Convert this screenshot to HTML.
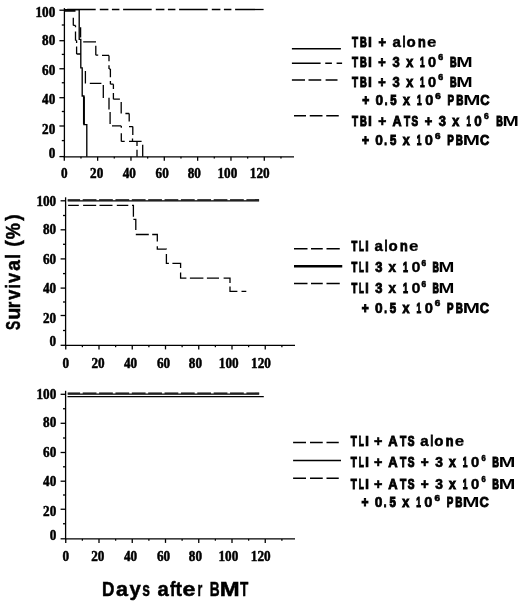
<!DOCTYPE html>
<html><head><meta charset="utf-8"><style>
html,body{margin:0;padding:0;background:#fff;overflow:hidden;}
svg{display:block;will-change:transform;}
text{fill:#000;}
.lg{stroke:#000;stroke-width:0.6px;}
.tt{stroke:#000;stroke-width:0.5px;}
.tk{stroke:#000;stroke-width:0.5px;}
</style></head><body>
<svg width="520" height="601" viewBox="0 0 520 601">
<rect width="520" height="601" fill="#fff"/>
<g stroke="#000" fill="none" stroke-linecap="butt">
<line x1="64.40" y1="8.10" x2="64.40" y2="157.40" stroke-width="1.3"/>
<line x1="63.80" y1="156.80" x2="294" y2="156.80" stroke-width="1.3"/>
<line x1="59.40" y1="10.20" x2="64.40" y2="10.20" stroke-width="1.3"/>
<text class="tk" font-size="14.2" font-family='"Liberation Serif", serif' font-weight="bold" transform="translate(35.49,16.56) scale(0.93,1)">100</text>
<line x1="61.80" y1="25" x2="64.40" y2="25" stroke-width="1.3"/>
<line x1="59.40" y1="40.70" x2="64.40" y2="40.70" stroke-width="1.3"/>
<text class="tk" font-size="14.2" font-family='"Liberation Serif", serif' font-weight="bold" transform="translate(42.10,44.91) scale(0.93,1)">80</text>
<line x1="61.80" y1="54.40" x2="64.40" y2="54.40" stroke-width="1.3"/>
<line x1="59.40" y1="68.75" x2="64.40" y2="68.75" stroke-width="1.3"/>
<text class="tk" font-size="14.2" font-family='"Liberation Serif", serif' font-weight="bold" transform="translate(42.10,74.91) scale(0.93,1)">60</text>
<line x1="61.80" y1="82.75" x2="64.40" y2="82.75" stroke-width="1.3"/>
<line x1="59.40" y1="97.70" x2="64.40" y2="97.70" stroke-width="1.3"/>
<text class="tk" font-size="14.2" font-family='"Liberation Serif", serif' font-weight="bold" transform="translate(42.10,104.16) scale(0.93,1)">40</text>
<line x1="61.80" y1="111.50" x2="64.40" y2="111.50" stroke-width="1.3"/>
<line x1="59.40" y1="126" x2="64.40" y2="126" stroke-width="1.3"/>
<text class="tk" font-size="14.2" font-family='"Liberation Serif", serif' font-weight="bold" transform="translate(42.10,133.91) scale(0.93,1)">20</text>
<line x1="61.80" y1="140.60" x2="64.40" y2="140.60" stroke-width="1.3"/>
<line x1="59.40" y1="156.60" x2="64.40" y2="156.60" stroke-width="1.3"/>
<text class="tk" font-size="14.2" font-family='"Liberation Serif", serif' font-weight="bold" transform="translate(48.70,158.06) scale(0.93,1)">0</text>
<line x1="64.30" y1="156.80" x2="64.30" y2="160.80" stroke-width="1.3"/>
<text class="tk" font-size="14.2" font-family='"Liberation Serif", serif' font-weight="bold" transform="translate(60.90,178.16) scale(0.93,1)">0</text>
<line x1="80.97" y1="156.80" x2="80.97" y2="158.60" stroke-width="1.3"/>
<line x1="97.63" y1="156.80" x2="97.63" y2="160.80" stroke-width="1.3"/>
<text class="tk" font-size="14.2" font-family='"Liberation Serif", serif' font-weight="bold" transform="translate(90.12,178.16) scale(0.93,1)">20</text>
<line x1="114.30" y1="156.80" x2="114.30" y2="158.60" stroke-width="1.3"/>
<line x1="130.97" y1="156.80" x2="130.97" y2="160.80" stroke-width="1.3"/>
<text class="tk" font-size="14.2" font-family='"Liberation Serif", serif' font-weight="bold" transform="translate(122.71,178.16) scale(0.93,1)">40</text>
<line x1="147.63" y1="156.80" x2="147.63" y2="158.60" stroke-width="1.3"/>
<line x1="164.30" y1="156.80" x2="164.30" y2="160.80" stroke-width="1.3"/>
<text class="tk" font-size="14.2" font-family='"Liberation Serif", serif' font-weight="bold" transform="translate(155.57,178.16) scale(0.93,1)">60</text>
<line x1="180.97" y1="156.80" x2="180.97" y2="158.60" stroke-width="1.3"/>
<line x1="197.64" y1="156.80" x2="197.64" y2="160.80" stroke-width="1.3"/>
<text class="tk" font-size="14.2" font-family='"Liberation Serif", serif' font-weight="bold" transform="translate(187.77,178.16) scale(0.93,1)">80</text>
<line x1="214.30" y1="156.80" x2="214.30" y2="158.60" stroke-width="1.3"/>
<line x1="230.97" y1="156.80" x2="230.97" y2="160.80" stroke-width="1.3"/>
<text class="tk" font-size="14.2" font-family='"Liberation Serif", serif' font-weight="bold" transform="translate(217.47,178.16) scale(0.93,1)">100</text>
<line x1="247.64" y1="156.80" x2="247.64" y2="158.60" stroke-width="1.3"/>
<line x1="264.30" y1="156.80" x2="264.30" y2="160.80" stroke-width="1.3"/>
<text class="tk" font-size="14.2" font-family='"Liberation Serif", serif' font-weight="bold" transform="translate(249.82,178.16) scale(0.93,1)">120</text>
<line x1="280.97" y1="156.80" x2="280.97" y2="158.60" stroke-width="1.3"/>
<polyline points="64.4,9.5 263.6,9.5" stroke-width="1.3" stroke-dasharray="28.6 4.1 8.6 3.5 7.5 3.7" stroke-dashoffset="-2.7"/>
<polyline points="64.4,9.6 79.2,9.6 79.2,39.3 80.8,39.3 80.8,67.8 82.2,67.8 82.2,96 83.9,96 83.9,124.6 86.8,124.6 86.8,156.8" stroke-width="1.35"/>
<line x1="83.90" y1="96.50" x2="83.90" y2="124.20" stroke-width="1.9"/>
<line x1="64.40" y1="10.90" x2="75.50" y2="10.90" stroke-width="1.7"/>
<path d="M73.3 17.7L73.3 25.4 M73.3 25.4L75.5 25.4 M75.5 25.4L75.5 27.2 M75.5 31.6L75.5 40.4 M75.5 40.4L76.6 40.4 M76.6 40.4L76.6 42.9 M76.6 46.6L76.6 54 M76.6 54L80.8 54 M85.4 70.9L85.4 83.5 M89.8 83.4L101.4 83.4 M103.3 84.9L103.3 98.1 M109 97.7L109 109.4 M110.1 112L110.1 124 M112 125.9L121.3 125.9 M121.3 125.9L121.3 127.8 M121.3 133.3L121.3 141.4 M121.3 141.4L124.7 141.4 M129 141.4L141.6 141.4 M137 141.4L137 146 M137 149.8L137 156.8" stroke-width="1.3"/>
<path d="M80.6 27.2L80.6 37.4 M83.2 41.8L96 41.8 M95.8 45.8L95.8 55.2 M95.8 55.2L98.2 55.2 M102 55.4L109 55.4 M109 55.4L109 61.2 M109 65.2L109 68.9 M109 68.9L110.4 68.9 M110.4 68.9L110.4 77.3 M110.4 80.9L110.4 84.2 M110.4 84.2L113.4 84.2 M113.4 84.2L113.4 89 M113.4 93L113.4 99.2 M113.4 99.2L119.9 99.2 M121.2 102.1L121.2 113.5 M125.4 113.5L129.2 113.5 M129.2 113.5L129.2 121.5 M129 126.6L132.8 126.6 M132.8 126.6L132.8 135 M132.5 138.4L132.5 141.4 M142.7 144.8L142.7 156.8" stroke-width="1.3"/>
<line x1="65.60" y1="197.30" x2="65.60" y2="346" stroke-width="1.3"/>
<line x1="65" y1="345.40" x2="295" y2="345.40" stroke-width="1.3"/>
<line x1="60.60" y1="200.80" x2="65.60" y2="200.80" stroke-width="1.3"/>
<text class="tk" font-size="14.2" font-family='"Liberation Serif", serif' font-weight="bold" transform="translate(36.39,205.66) scale(0.93,1)">100</text>
<line x1="63" y1="215.50" x2="65.60" y2="215.50" stroke-width="1.3"/>
<line x1="60.60" y1="229.80" x2="65.60" y2="229.80" stroke-width="1.3"/>
<text class="tk" font-size="14.2" font-family='"Liberation Serif", serif' font-weight="bold" transform="translate(43.00,233.66) scale(0.93,1)">80</text>
<line x1="63" y1="244.30" x2="65.60" y2="244.30" stroke-width="1.3"/>
<line x1="60.60" y1="258.90" x2="65.60" y2="258.90" stroke-width="1.3"/>
<text class="tk" font-size="14.2" font-family='"Liberation Serif", serif' font-weight="bold" transform="translate(43.00,263.56) scale(0.93,1)">60</text>
<line x1="63" y1="273.60" x2="65.60" y2="273.60" stroke-width="1.3"/>
<line x1="60.60" y1="288.10" x2="65.60" y2="288.10" stroke-width="1.3"/>
<text class="tk" font-size="14.2" font-family='"Liberation Serif", serif' font-weight="bold" transform="translate(43.00,292.66) scale(0.93,1)">40</text>
<line x1="63" y1="302" x2="65.60" y2="302" stroke-width="1.3"/>
<line x1="60.60" y1="315.50" x2="65.60" y2="315.50" stroke-width="1.3"/>
<text class="tk" font-size="14.2" font-family='"Liberation Serif", serif' font-weight="bold" transform="translate(43.00,323.16) scale(0.93,1)">20</text>
<line x1="63" y1="330.50" x2="65.60" y2="330.50" stroke-width="1.3"/>
<line x1="60.60" y1="345.30" x2="65.60" y2="345.30" stroke-width="1.3"/>
<text class="tk" font-size="14.2" font-family='"Liberation Serif", serif' font-weight="bold" transform="translate(49.60,346.46) scale(0.93,1)">0</text>
<line x1="65.75" y1="345.40" x2="65.75" y2="349.40" stroke-width="1.3"/>
<text class="tk" font-size="14.2" font-family='"Liberation Serif", serif' font-weight="bold" transform="translate(62.60,367.66) scale(0.93,1)">0</text>
<line x1="82.38" y1="345.40" x2="82.38" y2="347.20" stroke-width="1.3"/>
<line x1="99" y1="345.40" x2="99" y2="349.40" stroke-width="1.3"/>
<text class="tk" font-size="14.2" font-family='"Liberation Serif", serif' font-weight="bold" transform="translate(91.42,367.66) scale(0.93,1)">20</text>
<line x1="115.62" y1="345.40" x2="115.62" y2="347.20" stroke-width="1.3"/>
<line x1="132.25" y1="345.40" x2="132.25" y2="349.40" stroke-width="1.3"/>
<text class="tk" font-size="14.2" font-family='"Liberation Serif", serif' font-weight="bold" transform="translate(124.01,367.66) scale(0.93,1)">40</text>
<line x1="148.88" y1="345.40" x2="148.88" y2="347.20" stroke-width="1.3"/>
<line x1="165.50" y1="345.40" x2="165.50" y2="349.40" stroke-width="1.3"/>
<text class="tk" font-size="14.2" font-family='"Liberation Serif", serif' font-weight="bold" transform="translate(156.92,367.66) scale(0.93,1)">60</text>
<line x1="182.12" y1="345.40" x2="182.12" y2="347.20" stroke-width="1.3"/>
<line x1="198.75" y1="345.40" x2="198.75" y2="349.40" stroke-width="1.3"/>
<text class="tk" font-size="14.2" font-family='"Liberation Serif", serif' font-weight="bold" transform="translate(188.82,367.66) scale(0.93,1)">80</text>
<line x1="215.38" y1="345.40" x2="215.38" y2="347.20" stroke-width="1.3"/>
<line x1="232" y1="345.40" x2="232" y2="349.40" stroke-width="1.3"/>
<text class="tk" font-size="14.2" font-family='"Liberation Serif", serif' font-weight="bold" transform="translate(218.82,367.66) scale(0.93,1)">100</text>
<line x1="248.62" y1="345.40" x2="248.62" y2="347.20" stroke-width="1.3"/>
<line x1="265.25" y1="345.40" x2="265.25" y2="349.40" stroke-width="1.3"/>
<text class="tk" font-size="14.2" font-family='"Liberation Serif", serif' font-weight="bold" transform="translate(251.12,367.66) scale(0.93,1)">120</text>
<line x1="281.88" y1="345.40" x2="281.88" y2="347.20" stroke-width="1.3"/>
<line x1="67.70" y1="200.80" x2="259.10" y2="200.80" stroke-width="1.25"/>
<line x1="67.70" y1="199.80" x2="259.10" y2="199.80" stroke-width="1.3" stroke-dasharray="13.77 2.6" stroke-dashoffset="1.37"/>
<polyline points="67.7,205.4 133.4,205.4 133.4,219.3 135.8,219.3 135.8,234.5 157.3,234.5 157.3,249.2 166.4,249.2 166.4,263.4 180.6,263.4 180.6,278.1 230,278.1 230,291.3 246.3,291.3" stroke-width="1.3" stroke-dasharray="0.00 0.40 10.70 4.30 13.10 3.30 13.00 4.30 11.50 3.70 12.70 2.60 13.20 4.40 13.00 3.40 12.10 4.80 12.10 4.80 11.80 3.50 12.80 4.50 11.40 3.50 13.50 3.50 12.10 4.60 11.20 3.50 12.30 4.10 5.20 50" stroke-dashoffset="0"/>
<line x1="65.60" y1="390.80" x2="65.60" y2="539.50" stroke-width="1.3"/>
<line x1="65" y1="538.90" x2="295" y2="538.90" stroke-width="1.3"/>
<line x1="60.60" y1="394.30" x2="65.60" y2="394.30" stroke-width="1.3"/>
<text class="tk" font-size="14.2" font-family='"Liberation Serif", serif' font-weight="bold" transform="translate(36.49,399.06) scale(0.93,1)">100</text>
<line x1="63" y1="408.75" x2="65.60" y2="408.75" stroke-width="1.3"/>
<line x1="60.60" y1="423.30" x2="65.60" y2="423.30" stroke-width="1.3"/>
<text class="tk" font-size="14.2" font-family='"Liberation Serif", serif' font-weight="bold" transform="translate(43.10,427.06) scale(0.93,1)">80</text>
<line x1="63" y1="438" x2="65.60" y2="438" stroke-width="1.3"/>
<line x1="60.60" y1="452.50" x2="65.60" y2="452.50" stroke-width="1.3"/>
<text class="tk" font-size="14.2" font-family='"Liberation Serif", serif' font-weight="bold" transform="translate(43.10,456.76) scale(0.93,1)">60</text>
<line x1="63" y1="466.80" x2="65.60" y2="466.80" stroke-width="1.3"/>
<line x1="60.60" y1="481.20" x2="65.60" y2="481.20" stroke-width="1.3"/>
<text class="tk" font-size="14.2" font-family='"Liberation Serif", serif' font-weight="bold" transform="translate(43.10,486.31) scale(0.93,1)">40</text>
<line x1="63" y1="495" x2="65.60" y2="495" stroke-width="1.3"/>
<line x1="60.60" y1="509.25" x2="65.60" y2="509.25" stroke-width="1.3"/>
<text class="tk" font-size="14.2" font-family='"Liberation Serif", serif' font-weight="bold" transform="translate(43.10,516.46) scale(0.93,1)">20</text>
<line x1="63" y1="523.75" x2="65.60" y2="523.75" stroke-width="1.3"/>
<line x1="60.60" y1="538.80" x2="65.60" y2="538.80" stroke-width="1.3"/>
<text class="tk" font-size="14.2" font-family='"Liberation Serif", serif' font-weight="bold" transform="translate(49.70,539.66) scale(0.93,1)">0</text>
<line x1="65.75" y1="538.90" x2="65.75" y2="542.90" stroke-width="1.3"/>
<text class="tk" font-size="14.2" font-family='"Liberation Serif", serif' font-weight="bold" transform="translate(62.60,561.26) scale(0.93,1)">0</text>
<line x1="82.38" y1="538.90" x2="82.38" y2="540.70" stroke-width="1.3"/>
<line x1="99" y1="538.90" x2="99" y2="542.90" stroke-width="1.3"/>
<text class="tk" font-size="14.2" font-family='"Liberation Serif", serif' font-weight="bold" transform="translate(91.17,561.26) scale(0.93,1)">20</text>
<line x1="115.62" y1="538.90" x2="115.62" y2="540.70" stroke-width="1.3"/>
<line x1="132.25" y1="538.90" x2="132.25" y2="542.90" stroke-width="1.3"/>
<text class="tk" font-size="14.2" font-family='"Liberation Serif", serif' font-weight="bold" transform="translate(124.01,561.26) scale(0.93,1)">40</text>
<line x1="148.88" y1="538.90" x2="148.88" y2="540.70" stroke-width="1.3"/>
<line x1="165.50" y1="538.90" x2="165.50" y2="542.90" stroke-width="1.3"/>
<text class="tk" font-size="14.2" font-family='"Liberation Serif", serif' font-weight="bold" transform="translate(156.92,561.26) scale(0.93,1)">60</text>
<line x1="182.12" y1="538.90" x2="182.12" y2="540.70" stroke-width="1.3"/>
<line x1="198.75" y1="538.90" x2="198.75" y2="542.90" stroke-width="1.3"/>
<text class="tk" font-size="14.2" font-family='"Liberation Serif", serif' font-weight="bold" transform="translate(188.82,561.26) scale(0.93,1)">80</text>
<line x1="215.38" y1="538.90" x2="215.38" y2="540.70" stroke-width="1.3"/>
<line x1="232" y1="538.90" x2="232" y2="542.90" stroke-width="1.3"/>
<text class="tk" font-size="14.2" font-family='"Liberation Serif", serif' font-weight="bold" transform="translate(218.52,561.26) scale(0.93,1)">100</text>
<line x1="248.62" y1="538.90" x2="248.62" y2="540.70" stroke-width="1.3"/>
<line x1="265.25" y1="538.90" x2="265.25" y2="542.90" stroke-width="1.3"/>
<text class="tk" font-size="14.2" font-family='"Liberation Serif", serif' font-weight="bold" transform="translate(250.82,561.26) scale(0.93,1)">120</text>
<line x1="281.88" y1="538.90" x2="281.88" y2="540.70" stroke-width="1.3"/>
<line x1="67.70" y1="394.10" x2="259.20" y2="394.10" stroke-width="1.25"/>
<line x1="67.70" y1="393.10" x2="259.20" y2="393.10" stroke-width="1.3" stroke-dasharray="13.77 2.6" stroke-dashoffset="1.37"/>
<line x1="67.50" y1="396.60" x2="263.80" y2="396.60" stroke-width="1.15"/>
<text class="lg" style="stroke-width:1.10px" font-size="14.2" font-family='"Liberation Sans", sans-serif' font-weight="bold" transform="translate(351.96,46.60) scale(0.6948,1)">T</text>
<text class="lg" style="stroke-width:1.10px" font-size="14.2" font-family='"Liberation Sans", sans-serif' font-weight="bold" transform="translate(359.97,46.60) scale(0.6626,1)">B</text>
<text class="lg" style="stroke-width:0.63px" font-size="14.2" font-family='"Liberation Sans", sans-serif' font-weight="bold" transform="translate(368.04,46.60) scale(0.9885,1)">I</text>
<text class="lg" style="stroke-width:0.90px" font-size="14.2" font-family='"Liberation Sans", sans-serif' font-weight="bold" transform="translate(378.47,46.60) scale(0.8965,1)">+</text>
<text class="lg" style="stroke-width:0.46px" font-size="14.2" font-family='"Liberation Sans", sans-serif' font-weight="bold" transform="translate(392.59,46.60) scale(1.0613,1)">a</text>
<text class="lg" style="stroke-width:1.10px" font-size="14.2" font-family='"Liberation Sans", sans-serif' font-weight="bold" transform="translate(402.71,46.60) scale(0.6495,1)">l</text>
<text class="lg" style="stroke-width:0.46px" font-size="14.2" font-family='"Liberation Sans", sans-serif' font-weight="bold" transform="translate(406.53,46.60) scale(1.0613,1)">o</text>
<text class="lg" style="stroke-width:0.92px" font-size="14.2" font-family='"Liberation Sans", sans-serif' font-weight="bold" transform="translate(418.08,46.60) scale(0.8900,1)">n</text>
<text class="lg" style="stroke-width:0.21px" font-size="14.2" font-family='"Liberation Sans", sans-serif' font-weight="bold" transform="translate(427.07,46.60) scale(1.1883,1)">e</text>
<text class="lg" style="stroke-width:1.10px" font-size="14.2" font-family='"Liberation Sans", sans-serif' font-weight="bold" transform="translate(351.96,66.60) scale(0.6948,1)">T</text>
<text class="lg" style="stroke-width:1.10px" font-size="14.2" font-family='"Liberation Sans", sans-serif' font-weight="bold" transform="translate(359.97,66.60) scale(0.6626,1)">B</text>
<text class="lg" style="stroke-width:0.63px" font-size="14.2" font-family='"Liberation Sans", sans-serif' font-weight="bold" transform="translate(368.04,66.60) scale(0.9885,1)">I</text>
<text class="lg" style="stroke-width:0.90px" font-size="14.2" font-family='"Liberation Sans", sans-serif' font-weight="bold" transform="translate(378.37,66.60) scale(0.8965,1)">+</text>
<text class="lg" style="stroke-width:0.86px" font-size="14.2" font-family='"Liberation Sans", sans-serif' font-weight="bold" transform="translate(392.58,66.60) scale(0.9114,1)">3</text>
<text class="lg" style="stroke-width:0.95px" font-size="14.2" font-family='"Liberation Sans", sans-serif' font-weight="bold" transform="translate(406.22,66.60) scale(0.8818,1)">x</text>
<text class="lg" style="stroke-width:1.10px" font-size="14.2" font-family='"Liberation Sans", sans-serif' font-weight="bold" transform="translate(420.11,66.60) scale(0.5862,1)">1</text>
<text class="lg" style="stroke-width:0.55px" font-size="14.2" font-family='"Liberation Sans", sans-serif' font-weight="bold" transform="translate(428.11,66.60) scale(1.0242,1)">0</text>
<text class="lg" font-size="8.6" font-family='"Liberation Sans", sans-serif' font-weight="bold" transform="translate(438.19,60.30) scale(1.0289,1)">6</text>
<text class="lg" style="stroke-width:1.10px" font-size="14.2" font-family='"Liberation Sans", sans-serif' font-weight="bold" transform="translate(449.95,66.60) scale(0.6454,1)">B</text>
<text class="lg" style="stroke-width:0.00px" font-size="14.2" font-family='"Liberation Sans", sans-serif' font-weight="bold" transform="translate(456.15,66.60) scale(1.3838,1)">M</text>
<text class="lg" style="stroke-width:1.10px" font-size="14.2" font-family='"Liberation Sans", sans-serif' font-weight="bold" transform="translate(351.96,86.70) scale(0.6948,1)">T</text>
<text class="lg" style="stroke-width:1.10px" font-size="14.2" font-family='"Liberation Sans", sans-serif' font-weight="bold" transform="translate(359.97,86.70) scale(0.6626,1)">B</text>
<text class="lg" style="stroke-width:0.63px" font-size="14.2" font-family='"Liberation Sans", sans-serif' font-weight="bold" transform="translate(368.04,86.70) scale(0.9885,1)">I</text>
<text class="lg" style="stroke-width:0.90px" font-size="14.2" font-family='"Liberation Sans", sans-serif' font-weight="bold" transform="translate(378.37,86.70) scale(0.8965,1)">+</text>
<text class="lg" style="stroke-width:0.86px" font-size="14.2" font-family='"Liberation Sans", sans-serif' font-weight="bold" transform="translate(392.58,86.70) scale(0.9114,1)">3</text>
<text class="lg" style="stroke-width:0.95px" font-size="14.2" font-family='"Liberation Sans", sans-serif' font-weight="bold" transform="translate(406.22,86.70) scale(0.8818,1)">x</text>
<text class="lg" style="stroke-width:1.10px" font-size="14.2" font-family='"Liberation Sans", sans-serif' font-weight="bold" transform="translate(420.11,86.70) scale(0.5862,1)">1</text>
<text class="lg" style="stroke-width:0.55px" font-size="14.2" font-family='"Liberation Sans", sans-serif' font-weight="bold" transform="translate(428.11,86.70) scale(1.0242,1)">0</text>
<text class="lg" font-size="8.6" font-family='"Liberation Sans", sans-serif' font-weight="bold" transform="translate(438.19,80.40) scale(1.0289,1)">6</text>
<text class="lg" style="stroke-width:1.10px" font-size="14.2" font-family='"Liberation Sans", sans-serif' font-weight="bold" transform="translate(449.95,86.70) scale(0.6454,1)">B</text>
<text class="lg" style="stroke-width:0.00px" font-size="14.2" font-family='"Liberation Sans", sans-serif' font-weight="bold" transform="translate(456.15,86.70) scale(1.3838,1)">M</text>
<text class="lg" style="stroke-width:1.09px" font-size="14.2" font-family='"Liberation Sans", sans-serif' font-weight="bold" transform="translate(362.36,105.40) scale(0.8393,1)">+</text>
<text class="lg" style="stroke-width:0.70px" font-size="14.2" font-family='"Liberation Sans", sans-serif' font-weight="bold" transform="translate(375.59,105.40) scale(0.9654,1)">0</text>
<text class="lg" style="stroke-width:1.10px" font-size="14.2" font-family='"Liberation Sans", sans-serif' font-weight="bold" transform="translate(384.72,105.40) scale(0.6739,1)">.</text>
<text class="lg" style="stroke-width:1.10px" font-size="14.2" font-family='"Liberation Sans", sans-serif' font-weight="bold" transform="translate(390.37,105.40) scale(0.7994,1)">5</text>
<text class="lg" style="stroke-width:0.95px" font-size="14.2" font-family='"Liberation Sans", sans-serif' font-weight="bold" transform="translate(403.12,105.40) scale(0.8818,1)">x</text>
<text class="lg" style="stroke-width:1.10px" font-size="14.2" font-family='"Liberation Sans", sans-serif' font-weight="bold" transform="translate(417.11,105.40) scale(0.5900,1)">1</text>
<text class="lg" style="stroke-width:0.53px" font-size="14.2" font-family='"Liberation Sans", sans-serif' font-weight="bold" transform="translate(425.15,105.40) scale(1.0341,1)">0</text>
<text class="lg" font-size="8.6" font-family='"Liberation Sans", sans-serif' font-weight="bold" transform="translate(435.29,99.10) scale(1.1549,1)">6</text>
<text class="lg" style="stroke-width:1.10px" font-size="14.2" font-family='"Liberation Sans", sans-serif' font-weight="bold" transform="translate(447.53,105.40) scale(0.6878,1)">P</text>
<text class="lg" style="stroke-width:1.10px" font-size="14.2" font-family='"Liberation Sans", sans-serif' font-weight="bold" transform="translate(456.25,105.40) scale(0.6953,1)">B</text>
<text class="lg" style="stroke-width:0.00px" font-size="14.2" font-family='"Liberation Sans", sans-serif' font-weight="bold" transform="translate(463.20,105.40) scale(1.4543,1)">M</text>
<text class="lg" style="stroke-width:0.86px" font-size="14.2" font-family='"Liberation Sans", sans-serif' font-weight="bold" transform="translate(480.33,105.40) scale(0.9108,1)">C</text>
<text class="lg" style="stroke-width:1.10px" font-size="14.2" font-family='"Liberation Sans", sans-serif' font-weight="bold" transform="translate(351.96,125.70) scale(0.6948,1)">T</text>
<text class="lg" style="stroke-width:1.10px" font-size="14.2" font-family='"Liberation Sans", sans-serif' font-weight="bold" transform="translate(359.97,125.70) scale(0.6626,1)">B</text>
<text class="lg" style="stroke-width:0.63px" font-size="14.2" font-family='"Liberation Sans", sans-serif' font-weight="bold" transform="translate(368.04,125.70) scale(0.9885,1)">I</text>
<text class="lg" style="stroke-width:0.68px" font-size="14.2" font-family='"Liberation Sans", sans-serif' font-weight="bold" transform="translate(378.25,125.70) scale(0.9731,1)">+</text>
<text class="lg" style="stroke-width:0.95px" font-size="14.2" font-family='"Liberation Sans", sans-serif' font-weight="bold" transform="translate(392.39,125.70) scale(0.8845,1)">A</text>
<text class="lg" style="stroke-width:1.10px" font-size="14.2" font-family='"Liberation Sans", sans-serif' font-weight="bold" transform="translate(403.88,125.70) scale(0.7071,1)">T</text>
<text class="lg" style="stroke-width:1.10px" font-size="14.2" font-family='"Liberation Sans", sans-serif' font-weight="bold" transform="translate(411.40,125.70) scale(0.6967,1)">S</text>
<text class="lg" style="stroke-width:0.90px" font-size="14.2" font-family='"Liberation Sans", sans-serif' font-weight="bold" transform="translate(424.67,125.70) scale(0.8965,1)">+</text>
<text class="lg" style="stroke-width:0.86px" font-size="14.2" font-family='"Liberation Sans", sans-serif' font-weight="bold" transform="translate(438.68,125.70) scale(0.9114,1)">3</text>
<text class="lg" style="stroke-width:0.95px" font-size="14.2" font-family='"Liberation Sans", sans-serif' font-weight="bold" transform="translate(452.22,125.70) scale(0.8818,1)">x</text>
<text class="lg" style="stroke-width:1.10px" font-size="14.2" font-family='"Liberation Sans", sans-serif' font-weight="bold" transform="translate(466.52,125.70) scale(0.5562,1)">1</text>
<text class="lg" style="stroke-width:0.76px" font-size="14.2" font-family='"Liberation Sans", sans-serif' font-weight="bold" transform="translate(474.22,125.70) scale(0.9450,1)">0</text>
<text class="lg" font-size="8.6" font-family='"Liberation Sans", sans-serif' font-weight="bold" transform="translate(484.09,119.40) scale(0.9869,1)">6</text>
<text class="lg" style="stroke-width:1.10px" font-size="14.2" font-family='"Liberation Sans", sans-serif' font-weight="bold" transform="translate(496.25,125.70) scale(0.6423,1)">B</text>
<text class="lg" style="stroke-width:0.00px" font-size="14.2" font-family='"Liberation Sans", sans-serif' font-weight="bold" transform="translate(502.42,125.70) scale(1.3772,1)">M</text>
<text class="lg" style="stroke-width:1.09px" font-size="14.2" font-family='"Liberation Sans", sans-serif' font-weight="bold" transform="translate(361.96,145.00) scale(0.8393,1)">+</text>
<text class="lg" style="stroke-width:0.70px" font-size="14.2" font-family='"Liberation Sans", sans-serif' font-weight="bold" transform="translate(375.19,145.00) scale(0.9654,1)">0</text>
<text class="lg" style="stroke-width:1.10px" font-size="14.2" font-family='"Liberation Sans", sans-serif' font-weight="bold" transform="translate(384.32,145.00) scale(0.6739,1)">.</text>
<text class="lg" style="stroke-width:1.10px" font-size="14.2" font-family='"Liberation Sans", sans-serif' font-weight="bold" transform="translate(389.97,145.00) scale(0.7994,1)">5</text>
<text class="lg" style="stroke-width:0.95px" font-size="14.2" font-family='"Liberation Sans", sans-serif' font-weight="bold" transform="translate(402.72,145.00) scale(0.8818,1)">x</text>
<text class="lg" style="stroke-width:1.10px" font-size="14.2" font-family='"Liberation Sans", sans-serif' font-weight="bold" transform="translate(416.71,145.00) scale(0.5900,1)">1</text>
<text class="lg" style="stroke-width:0.53px" font-size="14.2" font-family='"Liberation Sans", sans-serif' font-weight="bold" transform="translate(424.75,145.00) scale(1.0341,1)">0</text>
<text class="lg" font-size="8.6" font-family='"Liberation Sans", sans-serif' font-weight="bold" transform="translate(434.89,138.70) scale(1.1549,1)">6</text>
<text class="lg" style="stroke-width:1.10px" font-size="14.2" font-family='"Liberation Sans", sans-serif' font-weight="bold" transform="translate(447.13,145.00) scale(0.6878,1)">P</text>
<text class="lg" style="stroke-width:1.10px" font-size="14.2" font-family='"Liberation Sans", sans-serif' font-weight="bold" transform="translate(455.85,145.00) scale(0.6953,1)">B</text>
<text class="lg" style="stroke-width:0.00px" font-size="14.2" font-family='"Liberation Sans", sans-serif' font-weight="bold" transform="translate(462.80,145.00) scale(1.4543,1)">M</text>
<text class="lg" style="stroke-width:0.86px" font-size="14.2" font-family='"Liberation Sans", sans-serif' font-weight="bold" transform="translate(479.93,145.00) scale(0.9108,1)">C</text>
<text class="lg" style="stroke-width:1.10px" font-size="14.2" font-family='"Liberation Sans", sans-serif' font-weight="bold" transform="translate(351.55,250.80) scale(0.6656,1)">T</text>
<text class="lg" style="stroke-width:1.10px" font-size="14.2" font-family='"Liberation Sans", sans-serif' font-weight="bold" transform="translate(359.07,250.80) scale(0.5566,1)">L</text>
<text class="lg" style="stroke-width:0.93px" font-size="14.2" font-family='"Liberation Sans", sans-serif' font-weight="bold" transform="translate(365.35,250.80) scale(0.8565,1)">I</text>
<text class="lg" style="stroke-width:0.46px" font-size="14.2" font-family='"Liberation Sans", sans-serif' font-weight="bold" transform="translate(374.59,250.80) scale(1.0613,1)">a</text>
<text class="lg" style="stroke-width:1.10px" font-size="14.2" font-family='"Liberation Sans", sans-serif' font-weight="bold" transform="translate(384.71,250.80) scale(0.6495,1)">l</text>
<text class="lg" style="stroke-width:0.46px" font-size="14.2" font-family='"Liberation Sans", sans-serif' font-weight="bold" transform="translate(388.53,250.80) scale(1.0613,1)">o</text>
<text class="lg" style="stroke-width:0.92px" font-size="14.2" font-family='"Liberation Sans", sans-serif' font-weight="bold" transform="translate(400.08,250.80) scale(0.8900,1)">n</text>
<text class="lg" style="stroke-width:0.21px" font-size="14.2" font-family='"Liberation Sans", sans-serif' font-weight="bold" transform="translate(409.07,250.80) scale(1.1883,1)">e</text>
<text class="lg" style="stroke-width:1.10px" font-size="14.2" font-family='"Liberation Sans", sans-serif' font-weight="bold" transform="translate(351.55,272.10) scale(0.6656,1)">T</text>
<text class="lg" style="stroke-width:1.10px" font-size="14.2" font-family='"Liberation Sans", sans-serif' font-weight="bold" transform="translate(359.07,272.10) scale(0.5566,1)">L</text>
<text class="lg" style="stroke-width:0.93px" font-size="14.2" font-family='"Liberation Sans", sans-serif' font-weight="bold" transform="translate(365.35,272.10) scale(0.8565,1)">I</text>
<text class="lg" style="stroke-width:0.86px" font-size="14.2" font-family='"Liberation Sans", sans-serif' font-weight="bold" transform="translate(375.28,272.10) scale(0.9114,1)">3</text>
<text class="lg" style="stroke-width:0.74px" font-size="14.2" font-family='"Liberation Sans", sans-serif' font-weight="bold" transform="translate(388.54,272.10) scale(0.9513,1)">x</text>
<text class="lg" style="stroke-width:1.10px" font-size="14.2" font-family='"Liberation Sans", sans-serif' font-weight="bold" transform="translate(402.99,272.10) scale(0.6276,1)">1</text>
<text class="lg" style="stroke-width:0.31px" font-size="14.2" font-family='"Liberation Sans", sans-serif' font-weight="bold" transform="translate(411.42,272.10) scale(1.1335,1)">0</text>
<text class="lg" font-size="8.6" font-family='"Liberation Sans", sans-serif' font-weight="bold" transform="translate(421.49,265.80) scale(0.9659,1)">6</text>
<text class="lg" style="stroke-width:1.10px" font-size="14.2" font-family='"Liberation Sans", sans-serif' font-weight="bold" transform="translate(432.56,272.10) scale(0.6238,1)">B</text>
<text class="lg" style="stroke-width:0.00px" font-size="14.2" font-family='"Liberation Sans", sans-serif' font-weight="bold" transform="translate(438.55,272.10) scale(1.3377,1)">M</text>
<text class="lg" style="stroke-width:1.10px" font-size="14.2" font-family='"Liberation Sans", sans-serif' font-weight="bold" transform="translate(351.55,293.40) scale(0.6656,1)">T</text>
<text class="lg" style="stroke-width:1.10px" font-size="14.2" font-family='"Liberation Sans", sans-serif' font-weight="bold" transform="translate(359.07,293.40) scale(0.5566,1)">L</text>
<text class="lg" style="stroke-width:0.93px" font-size="14.2" font-family='"Liberation Sans", sans-serif' font-weight="bold" transform="translate(365.35,293.40) scale(0.8565,1)">I</text>
<text class="lg" style="stroke-width:0.86px" font-size="14.2" font-family='"Liberation Sans", sans-serif' font-weight="bold" transform="translate(375.28,293.40) scale(0.9114,1)">3</text>
<text class="lg" style="stroke-width:0.74px" font-size="14.2" font-family='"Liberation Sans", sans-serif' font-weight="bold" transform="translate(388.54,293.40) scale(0.9513,1)">x</text>
<text class="lg" style="stroke-width:1.10px" font-size="14.2" font-family='"Liberation Sans", sans-serif' font-weight="bold" transform="translate(402.99,293.40) scale(0.6276,1)">1</text>
<text class="lg" style="stroke-width:0.31px" font-size="14.2" font-family='"Liberation Sans", sans-serif' font-weight="bold" transform="translate(411.42,293.40) scale(1.1335,1)">0</text>
<text class="lg" font-size="8.6" font-family='"Liberation Sans", sans-serif' font-weight="bold" transform="translate(421.49,287.10) scale(0.9659,1)">6</text>
<text class="lg" style="stroke-width:1.10px" font-size="14.2" font-family='"Liberation Sans", sans-serif' font-weight="bold" transform="translate(432.56,293.40) scale(0.6238,1)">B</text>
<text class="lg" style="stroke-width:0.00px" font-size="14.2" font-family='"Liberation Sans", sans-serif' font-weight="bold" transform="translate(438.55,293.40) scale(1.3377,1)">M</text>
<text class="lg" style="stroke-width:1.09px" font-size="14.2" font-family='"Liberation Sans", sans-serif' font-weight="bold" transform="translate(361.86,312.70) scale(0.8393,1)">+</text>
<text class="lg" style="stroke-width:0.70px" font-size="14.2" font-family='"Liberation Sans", sans-serif' font-weight="bold" transform="translate(375.09,312.70) scale(0.9654,1)">0</text>
<text class="lg" style="stroke-width:1.10px" font-size="14.2" font-family='"Liberation Sans", sans-serif' font-weight="bold" transform="translate(384.22,312.70) scale(0.6739,1)">.</text>
<text class="lg" style="stroke-width:1.10px" font-size="14.2" font-family='"Liberation Sans", sans-serif' font-weight="bold" transform="translate(389.87,312.70) scale(0.7994,1)">5</text>
<text class="lg" style="stroke-width:0.95px" font-size="14.2" font-family='"Liberation Sans", sans-serif' font-weight="bold" transform="translate(402.62,312.70) scale(0.8818,1)">x</text>
<text class="lg" style="stroke-width:1.10px" font-size="14.2" font-family='"Liberation Sans", sans-serif' font-weight="bold" transform="translate(416.61,312.70) scale(0.5900,1)">1</text>
<text class="lg" style="stroke-width:0.53px" font-size="14.2" font-family='"Liberation Sans", sans-serif' font-weight="bold" transform="translate(424.65,312.70) scale(1.0341,1)">0</text>
<text class="lg" font-size="8.6" font-family='"Liberation Sans", sans-serif' font-weight="bold" transform="translate(434.79,306.40) scale(1.1549,1)">6</text>
<text class="lg" style="stroke-width:1.10px" font-size="14.2" font-family='"Liberation Sans", sans-serif' font-weight="bold" transform="translate(447.03,312.70) scale(0.6878,1)">P</text>
<text class="lg" style="stroke-width:1.10px" font-size="14.2" font-family='"Liberation Sans", sans-serif' font-weight="bold" transform="translate(455.75,312.70) scale(0.6953,1)">B</text>
<text class="lg" style="stroke-width:0.00px" font-size="14.2" font-family='"Liberation Sans", sans-serif' font-weight="bold" transform="translate(462.70,312.70) scale(1.4543,1)">M</text>
<text class="lg" style="stroke-width:0.86px" font-size="14.2" font-family='"Liberation Sans", sans-serif' font-weight="bold" transform="translate(479.83,312.70) scale(0.9108,1)">C</text>
<text class="lg" style="stroke-width:1.10px" font-size="14.2" font-family='"Liberation Sans", sans-serif' font-weight="bold" transform="translate(350.86,446.30) scale(0.6970,1)">T</text>
<text class="lg" style="stroke-width:1.10px" font-size="14.2" font-family='"Liberation Sans", sans-serif' font-weight="bold" transform="translate(358.74,446.30) scale(0.5828,1)">L</text>
<text class="lg" style="stroke-width:0.56px" font-size="14.2" font-family='"Liberation Sans", sans-serif' font-weight="bold" transform="translate(365.06,446.30) scale(1.0237,1)">I</text>
<text class="lg" style="stroke-width:0.58px" font-size="14.2" font-family='"Liberation Sans", sans-serif' font-weight="bold" transform="translate(373.99,446.30) scale(1.0115,1)">+</text>
<text class="lg" style="stroke-width:0.86px" font-size="14.2" font-family='"Liberation Sans", sans-serif' font-weight="bold" transform="translate(388.25,446.30) scale(0.9130,1)">A</text>
<text class="lg" style="stroke-width:1.10px" font-size="14.2" font-family='"Liberation Sans", sans-serif' font-weight="bold" transform="translate(400.05,446.30) scale(0.7236,1)">T</text>
<text class="lg" style="stroke-width:1.10px" font-size="14.2" font-family='"Liberation Sans", sans-serif' font-weight="bold" transform="translate(407.75,446.30) scale(0.7129,1)">S</text>
<text class="lg" style="stroke-width:0.46px" font-size="14.2" font-family='"Liberation Sans", sans-serif' font-weight="bold" transform="translate(420.29,446.30) scale(1.0613,1)">a</text>
<text class="lg" style="stroke-width:1.10px" font-size="14.2" font-family='"Liberation Sans", sans-serif' font-weight="bold" transform="translate(430.41,446.30) scale(0.6495,1)">l</text>
<text class="lg" style="stroke-width:0.46px" font-size="14.2" font-family='"Liberation Sans", sans-serif' font-weight="bold" transform="translate(434.23,446.30) scale(1.0613,1)">o</text>
<text class="lg" style="stroke-width:0.92px" font-size="14.2" font-family='"Liberation Sans", sans-serif' font-weight="bold" transform="translate(445.78,446.30) scale(0.8900,1)">n</text>
<text class="lg" style="stroke-width:0.21px" font-size="14.2" font-family='"Liberation Sans", sans-serif' font-weight="bold" transform="translate(454.77,446.30) scale(1.1883,1)">e</text>
<text class="lg" style="stroke-width:1.10px" font-size="14.2" font-family='"Liberation Sans", sans-serif' font-weight="bold" transform="translate(350.86,466.80) scale(0.6970,1)">T</text>
<text class="lg" style="stroke-width:1.10px" font-size="14.2" font-family='"Liberation Sans", sans-serif' font-weight="bold" transform="translate(358.74,466.80) scale(0.5828,1)">L</text>
<text class="lg" style="stroke-width:0.56px" font-size="14.2" font-family='"Liberation Sans", sans-serif' font-weight="bold" transform="translate(365.06,466.80) scale(1.0237,1)">I</text>
<text class="lg" style="stroke-width:0.58px" font-size="14.2" font-family='"Liberation Sans", sans-serif' font-weight="bold" transform="translate(373.99,466.80) scale(1.0115,1)">+</text>
<text class="lg" style="stroke-width:0.86px" font-size="14.2" font-family='"Liberation Sans", sans-serif' font-weight="bold" transform="translate(388.25,466.80) scale(0.9130,1)">A</text>
<text class="lg" style="stroke-width:1.10px" font-size="14.2" font-family='"Liberation Sans", sans-serif' font-weight="bold" transform="translate(400.05,466.80) scale(0.7236,1)">T</text>
<text class="lg" style="stroke-width:1.10px" font-size="14.2" font-family='"Liberation Sans", sans-serif' font-weight="bold" transform="translate(407.75,466.80) scale(0.7129,1)">S</text>
<text class="lg" style="stroke-width:0.73px" font-size="14.2" font-family='"Liberation Sans", sans-serif' font-weight="bold" transform="translate(420.78,466.80) scale(0.9539,1)">+</text>
<text class="lg" style="stroke-width:0.69px" font-size="14.2" font-family='"Liberation Sans", sans-serif' font-weight="bold" transform="translate(435.20,466.80) scale(0.9698,1)">3</text>
<text class="lg" style="stroke-width:1.01px" font-size="14.2" font-family='"Liberation Sans", sans-serif' font-weight="bold" transform="translate(448.94,466.80) scale(0.8644,1)">x</text>
<text class="lg" style="stroke-width:1.10px" font-size="14.2" font-family='"Liberation Sans", sans-serif' font-weight="bold" transform="translate(462.80,466.80) scale(0.5937,1)">1</text>
<text class="lg" style="stroke-width:0.50px" font-size="14.2" font-family='"Liberation Sans", sans-serif' font-weight="bold" transform="translate(470.89,466.80) scale(1.0440,1)">0</text>
<text class="lg" font-size="8.6" font-family='"Liberation Sans", sans-serif' font-weight="bold" transform="translate(481.59,460.50) scale(0.8819,1)">6</text>
<text class="lg" style="stroke-width:1.10px" font-size="14.2" font-family='"Liberation Sans", sans-serif' font-weight="bold" transform="translate(492.35,466.80) scale(0.6546,1)">B</text>
<text class="lg" style="stroke-width:0.00px" font-size="14.2" font-family='"Liberation Sans", sans-serif' font-weight="bold" transform="translate(498.63,466.80) scale(1.4036,1)">M</text>
<text class="lg" style="stroke-width:1.10px" font-size="14.2" font-family='"Liberation Sans", sans-serif' font-weight="bold" transform="translate(350.86,488.50) scale(0.6970,1)">T</text>
<text class="lg" style="stroke-width:1.10px" font-size="14.2" font-family='"Liberation Sans", sans-serif' font-weight="bold" transform="translate(358.74,488.50) scale(0.5828,1)">L</text>
<text class="lg" style="stroke-width:0.56px" font-size="14.2" font-family='"Liberation Sans", sans-serif' font-weight="bold" transform="translate(365.06,488.50) scale(1.0237,1)">I</text>
<text class="lg" style="stroke-width:0.58px" font-size="14.2" font-family='"Liberation Sans", sans-serif' font-weight="bold" transform="translate(373.99,488.50) scale(1.0115,1)">+</text>
<text class="lg" style="stroke-width:0.86px" font-size="14.2" font-family='"Liberation Sans", sans-serif' font-weight="bold" transform="translate(388.25,488.50) scale(0.9130,1)">A</text>
<text class="lg" style="stroke-width:1.10px" font-size="14.2" font-family='"Liberation Sans", sans-serif' font-weight="bold" transform="translate(400.05,488.50) scale(0.7236,1)">T</text>
<text class="lg" style="stroke-width:1.10px" font-size="14.2" font-family='"Liberation Sans", sans-serif' font-weight="bold" transform="translate(407.75,488.50) scale(0.7129,1)">S</text>
<text class="lg" style="stroke-width:0.73px" font-size="14.2" font-family='"Liberation Sans", sans-serif' font-weight="bold" transform="translate(420.78,488.50) scale(0.9539,1)">+</text>
<text class="lg" style="stroke-width:0.69px" font-size="14.2" font-family='"Liberation Sans", sans-serif' font-weight="bold" transform="translate(435.20,488.50) scale(0.9698,1)">3</text>
<text class="lg" style="stroke-width:1.01px" font-size="14.2" font-family='"Liberation Sans", sans-serif' font-weight="bold" transform="translate(448.94,488.50) scale(0.8644,1)">x</text>
<text class="lg" style="stroke-width:1.10px" font-size="14.2" font-family='"Liberation Sans", sans-serif' font-weight="bold" transform="translate(462.80,488.50) scale(0.5937,1)">1</text>
<text class="lg" style="stroke-width:0.50px" font-size="14.2" font-family='"Liberation Sans", sans-serif' font-weight="bold" transform="translate(470.89,488.50) scale(1.0440,1)">0</text>
<text class="lg" font-size="8.6" font-family='"Liberation Sans", sans-serif' font-weight="bold" transform="translate(481.59,482.20) scale(0.8819,1)">6</text>
<text class="lg" style="stroke-width:1.10px" font-size="14.2" font-family='"Liberation Sans", sans-serif' font-weight="bold" transform="translate(492.35,488.50) scale(0.6546,1)">B</text>
<text class="lg" style="stroke-width:0.00px" font-size="14.2" font-family='"Liberation Sans", sans-serif' font-weight="bold" transform="translate(498.63,488.50) scale(1.4036,1)">M</text>
<text class="lg" style="stroke-width:1.09px" font-size="14.2" font-family='"Liberation Sans", sans-serif' font-weight="bold" transform="translate(361.46,506.90) scale(0.8393,1)">+</text>
<text class="lg" style="stroke-width:0.70px" font-size="14.2" font-family='"Liberation Sans", sans-serif' font-weight="bold" transform="translate(374.69,506.90) scale(0.9654,1)">0</text>
<text class="lg" style="stroke-width:1.10px" font-size="14.2" font-family='"Liberation Sans", sans-serif' font-weight="bold" transform="translate(383.82,506.90) scale(0.6739,1)">.</text>
<text class="lg" style="stroke-width:1.10px" font-size="14.2" font-family='"Liberation Sans", sans-serif' font-weight="bold" transform="translate(389.47,506.90) scale(0.7994,1)">5</text>
<text class="lg" style="stroke-width:0.95px" font-size="14.2" font-family='"Liberation Sans", sans-serif' font-weight="bold" transform="translate(402.22,506.90) scale(0.8818,1)">x</text>
<text class="lg" style="stroke-width:1.10px" font-size="14.2" font-family='"Liberation Sans", sans-serif' font-weight="bold" transform="translate(416.21,506.90) scale(0.5900,1)">1</text>
<text class="lg" style="stroke-width:0.53px" font-size="14.2" font-family='"Liberation Sans", sans-serif' font-weight="bold" transform="translate(424.25,506.90) scale(1.0341,1)">0</text>
<text class="lg" font-size="8.6" font-family='"Liberation Sans", sans-serif' font-weight="bold" transform="translate(434.39,500.60) scale(1.1549,1)">6</text>
<text class="lg" style="stroke-width:1.10px" font-size="14.2" font-family='"Liberation Sans", sans-serif' font-weight="bold" transform="translate(446.63,506.90) scale(0.6878,1)">P</text>
<text class="lg" style="stroke-width:1.10px" font-size="14.2" font-family='"Liberation Sans", sans-serif' font-weight="bold" transform="translate(455.35,506.90) scale(0.6953,1)">B</text>
<text class="lg" style="stroke-width:0.00px" font-size="14.2" font-family='"Liberation Sans", sans-serif' font-weight="bold" transform="translate(462.30,506.90) scale(1.4543,1)">M</text>
<text class="lg" style="stroke-width:0.86px" font-size="14.2" font-family='"Liberation Sans", sans-serif' font-weight="bold" transform="translate(479.43,506.90) scale(0.9108,1)">C</text>
<line x1="291.90" y1="48.80" x2="340.90" y2="48.80" stroke-width="1.5"/>
<polyline points="291.9,63.35 342.1,63.35" stroke-width="1.5" stroke-dasharray="28.7 4.65 6.65 4.7 5.5 50" stroke-dashoffset="0"/>
<polyline points="291.9,80 337.5,80" stroke-width="1.5" stroke-dasharray="13.1 3.5 12.75 4.35 11.9 50" stroke-dashoffset="0"/>
<polyline points="294,115.8 338.75,115.8" stroke-width="1.5" stroke-dasharray="12 3.75 12.75 3.75 12.5 50" stroke-dashoffset="0"/>
<polyline points="294,248.75 339.75,248.75" stroke-width="1.5" stroke-dasharray="13.5 3.5 11.75 3.75 13.25 50" stroke-dashoffset="0"/>
<line x1="294" y1="266.25" x2="342.25" y2="266.25" stroke-width="2.5"/>
<polyline points="294,283.5 339.75,283.5" stroke-width="1.5" stroke-dasharray="13.5 3.5 11.75 3.75 13.25 50" stroke-dashoffset="0"/>
<polyline points="293.1,442.5 338.75,442.5" stroke-width="1.5" stroke-dasharray="12.9 4 12.75 3.75 12.25 50" stroke-dashoffset="0"/>
<line x1="293.10" y1="460.50" x2="341" y2="460.50" stroke-width="1.5"/>
<polyline points="293.1,478.3 338.75,478.3" stroke-width="1.5" stroke-dasharray="12.9 4 12.75 3.75 12.25 50" stroke-dashoffset="0"/>
<text class="tt" font-size="20.2" font-family='"Liberation Sans", sans-serif' font-weight="bold" transform="translate(20.00,329.99) rotate(-90) scale(0.6757,1)">S</text>
<text class="tt" font-size="20.2" font-family='"Liberation Sans", sans-serif' font-weight="bold" transform="translate(20.00,319.68) rotate(-90) scale(0.9769,1)">u</text>
<text class="tt" font-size="20.2" font-family='"Liberation Sans", sans-serif' font-weight="bold" transform="translate(20.00,308.30) rotate(-90) scale(0.8331,1)">r</text>
<text class="tt" font-size="20.2" font-family='"Liberation Sans", sans-serif' font-weight="bold" transform="translate(20.00,299.85) rotate(-90) scale(0.8903,1)">v</text>
<text class="tt" font-size="20.2" font-family='"Liberation Sans", sans-serif' font-weight="bold" transform="translate(20.00,288.42) rotate(-90) scale(0.7909,1)">i</text>
<text class="tt" font-size="20.2" font-family='"Liberation Sans", sans-serif' font-weight="bold" transform="translate(20.00,283.05) rotate(-90) scale(0.8989,1)">v</text>
<text class="tt" font-size="20.2" font-family='"Liberation Sans", sans-serif' font-weight="bold" transform="translate(20.00,270.84) rotate(-90) scale(0.9559,1)">a</text>
<text class="tt" font-size="20.2" font-family='"Liberation Sans", sans-serif' font-weight="bold" transform="translate(20.00,258.72) rotate(-90) scale(0.8365,1)">l</text>
<text class="tt" font-size="20.2" font-family='"Liberation Sans", sans-serif' font-weight="bold" transform="translate(20.00,246.74) rotate(-90) scale(0.9683,1)">(</text>
<text class="tt" font-size="20.2" font-family='"Liberation Sans", sans-serif' font-weight="bold" transform="translate(20.00,239.21) rotate(-90) scale(0.9009,1)">%</text>
<text class="tt" font-size="20.2" font-family='"Liberation Sans", sans-serif' font-weight="bold" transform="translate(20.00,220.80) rotate(-90) scale(0.9683,1)">)</text>
<text class="tt" font-size="20.2" font-family='"Liberation Sans", sans-serif' font-weight="bold" transform="translate(102.08,595.60) scale(0.8525,1)">D</text>
<text class="tt" font-size="20.2" font-family='"Liberation Sans", sans-serif' font-weight="bold" transform="translate(116.12,595.60) scale(1.0670,1)">a</text>
<text class="tt" font-size="20.2" font-family='"Liberation Sans", sans-serif' font-weight="bold" transform="translate(129.59,595.60) scale(1.0045,1)">y</text>
<text class="tt" font-size="20.2" font-family='"Liberation Sans", sans-serif' font-weight="bold" transform="translate(142.17,595.60) scale(0.6865,1)">s</text>
<text class="tt" font-size="20.2" font-family='"Liberation Sans", sans-serif' font-weight="bold" transform="translate(157.44,595.60) scale(1.0048,1)">a</text>
<text class="tt" font-size="20.2" font-family='"Liberation Sans", sans-serif' font-weight="bold" transform="translate(170.11,595.60) scale(0.8136,1)">f</text>
<text class="tt" font-size="20.2" font-family='"Liberation Sans", sans-serif' font-weight="bold" transform="translate(175.51,595.60) scale(0.9670,1)">t</text>
<text class="tt" font-size="20.2" font-family='"Liberation Sans", sans-serif' font-weight="bold" transform="translate(182.46,595.60) scale(1.1527,1)">e</text>
<text class="tt" font-size="20.2" font-family='"Liberation Sans", sans-serif' font-weight="bold" transform="translate(197.44,595.60) scale(0.6100,1)">r</text>
<text class="tt" font-size="20.2" font-family='"Liberation Sans", sans-serif' font-weight="bold" transform="translate(209.87,595.60) scale(0.6785,1)">B</text>
<text class="tt" font-size="20.2" font-family='"Liberation Sans", sans-serif' font-weight="bold" transform="translate(219.72,595.60) scale(1.1817,1)">M</text>
<text class="tt" font-size="20.2" font-family='"Liberation Sans", sans-serif' font-weight="bold" transform="translate(240.01,595.60) scale(0.6706,1)">T</text>
</g>
</svg>
</body></html>
